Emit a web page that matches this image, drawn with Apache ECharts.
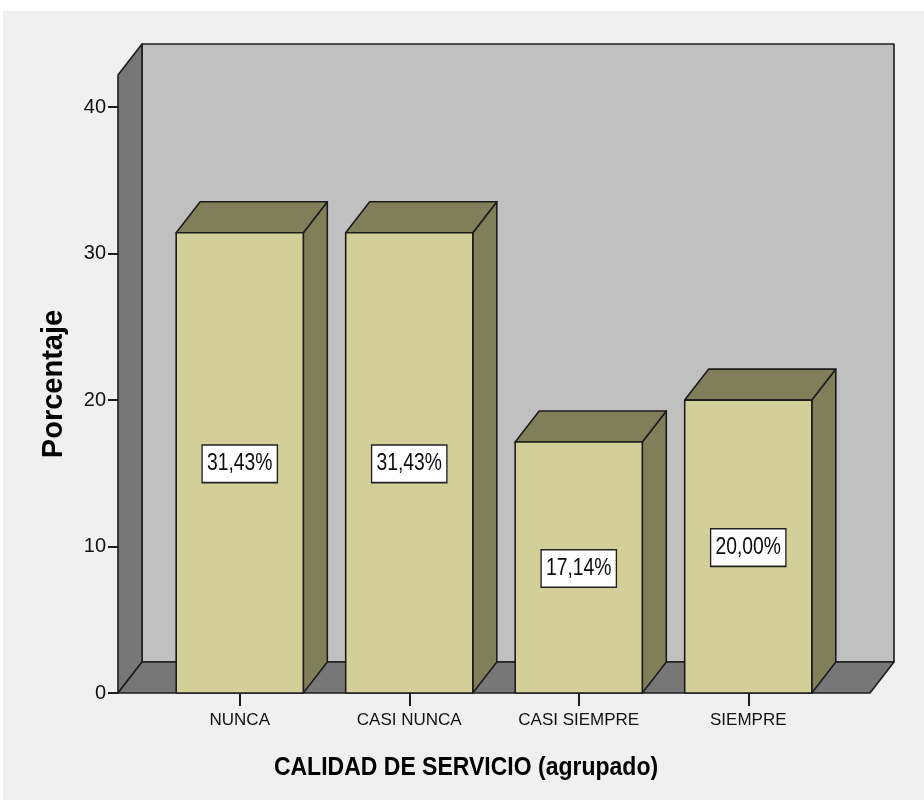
<!DOCTYPE html>
<html>
<head>
<meta charset="utf-8">
<script src="https://cdn.jsdelivr.net/npm/echarts@6/dist/echarts.min.js"></script>
<style>
  html, body { margin: 0; padding: 0; background: #ffffff; }
  #page { position: relative; width: 924px; height: 800px; background: #ffffff; }
  #panel { position: absolute; left: 3px; top: 11px; width: 921px; height: 789px; background: #f0f0f0; }
  #chart { position: absolute; left: 0; top: 0; width: 924px; height: 800px; }
</style>
</head>
<body>
<div id="page">
  <div id="panel"></div>
  <div id="chart"></div>
</div>
<script>
// Frequency table: CALIDAD DE SERVICIO (agrupado)
const categories = ['NUNCA', 'CASI NUNCA', 'CASI SIEMPRE', 'SIEMPRE'];
const percentages = [31.43, 31.43, 17.14, 20.00];
const yTickValues = [0, 10, 20, 30, 40];
const yAxisTop = 42.2;

// Styling constants for the pseudo-3D box
const SANS = "'Liberation Sans', Arial, sans-serif";
const DEPTH_X = 24, DEPTH_Y = -31;
const WALL_PAD = 37;
const EDGE = '#1c1c1c';
const EDGE_W = 1.6;
const BACK_WALL = '#c0c0c0';
const SIDE_WALL = '#777777';
const BAR_FRONT = '#d3cf98';
const BAR_SHADE = '#817f5a';

function formatPct(v) {
  return v.toFixed(2).replace('.', ',') + '%';
}

// Back wall, left wall and floor of the box, sized from the grid and value axis
function renderWalls(params, api) {
  const cs = params.coordSys;
  const yb = api.coord([0, 0])[1];
  const yt = api.coord([0, yAxisTop])[1];
  const L = cs.x - WALL_PAD;
  const R = cs.x + cs.width + WALL_PAD;
  const st = (fill) => ({ fill: fill, stroke: EDGE, lineWidth: EDGE_W, lineJoin: 'round' });
  return {
    type: 'group',
    children: [
      { type: 'polygon', shape: { points: [[L + DEPTH_X, yt + DEPTH_Y], [R + DEPTH_X, yt + DEPTH_Y], [R + DEPTH_X, yb + DEPTH_Y], [L + DEPTH_X, yb + DEPTH_Y]] }, style: st(BACK_WALL) },
      { type: 'polygon', shape: { points: [[L, yb], [L, yt], [L + DEPTH_X, yt + DEPTH_Y], [L + DEPTH_X, yb + DEPTH_Y]] }, style: st(SIDE_WALL) },
      { type: 'polygon', shape: { points: [[L, yb], [R, yb], [R + DEPTH_X, yb + DEPTH_Y], [L + DEPTH_X, yb + DEPTH_Y]] }, style: st(SIDE_WALL) }
    ]
  };
}

// One box per category: front face, top face, right face and the value label
function renderBar(params, api) {
  const idx = api.value(0);
  const val = api.value(1);
  const top = api.coord([idx, val]);
  const base = api.coord([idx, 0]);
  const w = api.size([1, 0])[0] * 0.75;
  const x0 = top[0] - w / 2, x1 = top[0] + w / 2;
  const yt = top[1], yb = base[1];
  const st = (fill) => ({ fill: fill, stroke: EDGE, lineWidth: EDGE_W, lineJoin: 'round' });
  return {
    type: 'group',
    children: [
      { type: 'polygon', shape: { points: [[x1, yt], [x1 + DEPTH_X, yt + DEPTH_Y], [x1 + DEPTH_X, yb + DEPTH_Y], [x1, yb]] }, style: st(BAR_SHADE) },
      { type: 'polygon', shape: { points: [[x0, yt], [x1, yt], [x1 + DEPTH_X, yt + DEPTH_Y], [x0 + DEPTH_X, yt + DEPTH_Y]] }, style: st(BAR_SHADE) },
      { type: 'rect', shape: { x: x0, y: yt, width: w, height: yb - yt }, style: st(BAR_FRONT) },
      {
        type: 'text',
        x: top[0],
        y: (yt + yb) / 2 + 1,
        scaleX: 0.84,
        style: {
          text: formatPct(val),
          fontFamily: SANS,
          fontSize: 23,
          lineHeight: 26,
          fill: '#0a0a0a',
          align: 'center',
          verticalAlign: 'middle',
          backgroundColor: '#ffffff',
          borderColor: '#222222',
          borderWidth: 1.6,
          padding: [5, 5, 5, 5]
        }
      }
    ]
  };
}

const chart = echarts.init(document.getElementById('chart'), null, { renderer: 'canvas' });

chart.setOption({
  backgroundColor: 'transparent',
  animation: false,
  graphic: [
    {
      type: 'text',
      x: 466,
      y: 768,
      scaleY: 1.1,
      style: {
        text: 'CALIDAD DE SERVICIO (agrupado)',
        fontFamily: SANS,
        fontSize: 23,
        fontWeight: 'bold',
        fill: '#000000',
        align: 'center',
        verticalAlign: 'middle'
      }
    }
  ],
  grid: { left: 155, right: 91, top: 75, bottom: 107 },
  xAxis: {
    type: 'category',
    data: categories,
    axisLine: { show: false },
    axisTick: { show: true, alignWithLabel: true, length: 13, lineStyle: { color: EDGE, width: 2 } },
    axisLabel: { interval: 0, margin: 19, fontFamily: SANS, fontSize: 17, color: '#111111' },
    splitLine: { show: false }
  },
  yAxis: {
    type: 'value',
    min: 0,
    max: yAxisTop,
    offset: 37,
    name: 'Porcentaje',
    nameLocation: 'middle',
    nameGap: 50,
    nameTextStyle: { fontFamily: SANS, fontSize: 29, fontWeight: 'bold', color: '#000000' },
    axisLine: { show: false },
    axisTick: { show: true, length: 10, customValues: yTickValues, lineStyle: { color: EDGE, width: 2 } },
    axisLabel: { margin: 12, fontFamily: SANS, fontSize: 20, color: '#111111', customValues: yTickValues },
    splitLine: { show: false }
  },
  series: [
    {
      type: 'custom',
      renderItem: renderWalls,
      data: [[0, 0]],
      z: 1,
      silent: true
    },
    {
      type: 'custom',
      renderItem: renderBar,
      data: percentages.map((v, i) => [i, v]),
      z: 2
    }
  ]
});
</script>
</body>
</html>
